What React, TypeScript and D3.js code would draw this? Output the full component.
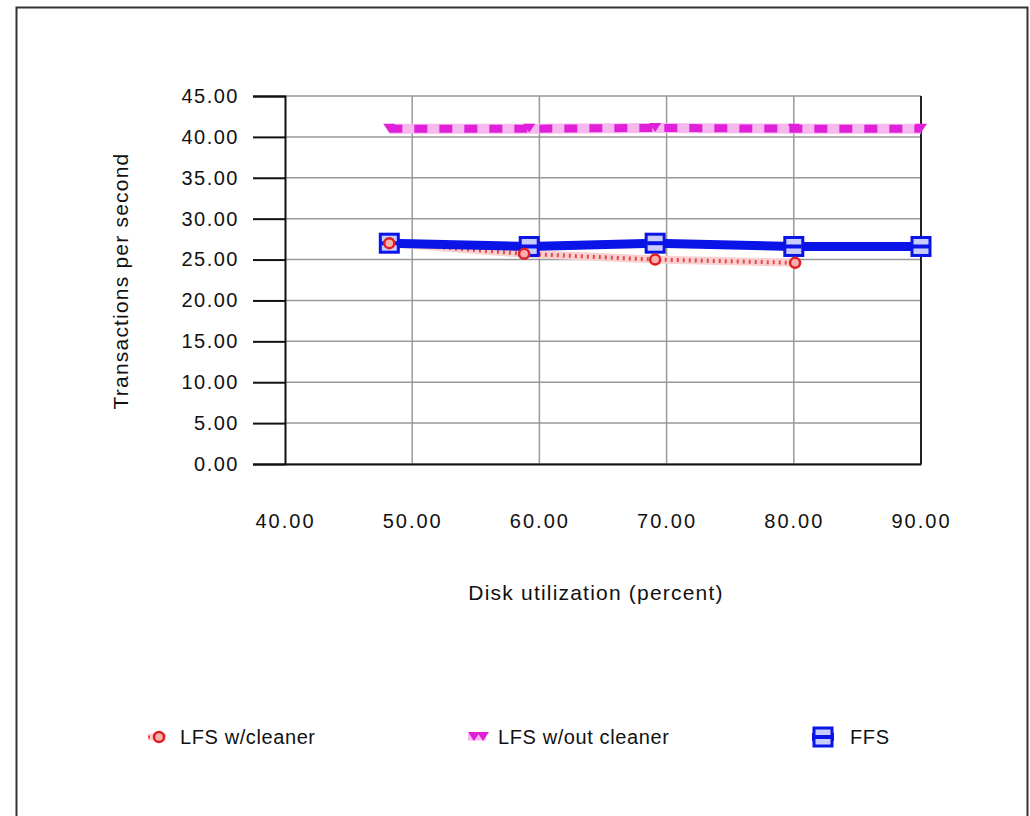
import { useEffect, useRef } from "react";
import * as d3 from "d3";

// Data
const xTicks = [40, 50, 60, 70, 80, 90];
const yTicks = [0, 5, 10, 15, 20, 25, 30, 35, 40, 45];

const lfsCleanerX = [48.2, 58.8, 69.1, 80.1];
const lfsCleanerY = [27.0, 25.7, 25.0, 24.6];

const lfsNoCleanerX = [48.2, 59.2, 69.1, 80.0, 90.0];
const lfsNoCleanerY = [41.0, 41.0, 41.1, 41.0, 41.0];

const ffsX = [48.2, 59.2, 69.1, 80.0, 90.0];
const ffsY = [27.0, 26.6, 27.0, 26.6, 26.6];

const legendLabels = ["LFS w/cleaner", "LFS w/out cleaner", "FFS"];

const W = 1030;
const H = 816;
const FONT = "'Liberation Sans', Arial, sans-serif";

export default function App() {
  const svgRef = useRef<SVGSVGElement | null>(null);

  useEffect(() => {
    if (!svgRef.current) return;
    const svg = d3.select(svgRef.current);
    svg.selectAll("*").remove();

    // outer frame
    svg
      .append("rect")
      .attr("x", 16.5)
      .attr("y", 7.5)
      .attr("width", 1011)
      .attr("height", 830)
      .attr("fill", "white")
      .attr("stroke", "#333")
      .attr("stroke-width", 2);

    const x = d3.scaleLinear().domain([40, 90]).range([285, 921]);
    const y = d3.scaleLinear().domain([0, 45]).range([464, 96]);

    const g = svg.append("g");

    // grid
    g.selectAll(".hgrid")
      .data(yTicks)
      .enter()
      .append("line")
      .attr("x1", x(40))
      .attr("x2", x(90))
      .attr("y1", (d) => y(d))
      .attr("y2", (d) => y(d))
      .attr("stroke", "#999")
      .attr("stroke-width", 1.5);
    g.selectAll(".vgrid")
      .data(xTicks.slice(1, -1))
      .enter()
      .append("line")
      .attr("x1", (d) => x(d))
      .attr("x2", (d) => x(d))
      .attr("y1", y(45))
      .attr("y2", y(0))
      .attr("stroke", "#999")
      .attr("stroke-width", 1.5);

    // right border
    g.append("line")
      .attr("x1", x(90))
      .attr("x2", x(90))
      .attr("y1", y(45))
      .attr("y2", y(0))
      .attr("stroke", "#222")
      .attr("stroke-width", 2);

    // Y axis
    const yAxis = g
      .append("g")
      .attr("transform", `translate(${x(40)},0)`)
      .call(
        d3
          .axisLeft(y)
          .tickValues(yTicks)
          .tickSize(32)
          .tickFormat((d) => d3.format(".2f")(d as number))
      );
    yAxis.select(".domain").attr("stroke", "#111").attr("stroke-width", 2);
    yAxis.selectAll(".tick line").attr("stroke", "#111").attr("stroke-width", 2);
    yAxis
      .selectAll(".tick text")
      .attr("font-family", FONT)
      .attr("font-size", 20)
      .attr("letter-spacing", 1.5)
      .attr("fill", "#111")
      .attr("x", -46);

    // X axis
    const xAxis = g
      .append("g")
      .attr("transform", `translate(0,${y(0)})`)
      .call(
        d3
          .axisBottom(x)
          .tickValues(xTicks)
          .tickSize(0)
          .tickFormat((d) => d3.format(".2f")(d as number))
      );
    xAxis.select(".domain").attr("stroke", "#111").attr("stroke-width", 2);
    xAxis
      .selectAll(".tick text")
      .attr("font-family", FONT)
      .attr("font-size", 20)
      .attr("letter-spacing", 2)
      .attr("fill", "#111")
      .attr("y", 50);

    // axis titles
    svg
      .append("text")
      .attr("transform", "translate(128,281) rotate(-90)")
      .attr("text-anchor", "middle")
      .attr("font-family", FONT)
      .attr("font-size", 21)
      .attr("letter-spacing", 1.2)
      .attr("fill", "#111")
      .text("Transactions per second");
    svg
      .append("text")
      .attr("x", 596)
      .attr("y", 600)
      .attr("text-anchor", "middle")
      .attr("font-family", FONT)
      .attr("font-size", 21)
      .attr("letter-spacing", 1.2)
      .attr("fill", "#111")
      .text("Disk utilization (percent)");

    const line = d3
      .line<[number, number]>()
      .x((d) => x(d[0]))
      .y((d) => y(d[1]));

    const lfsC = lfsCleanerX.map((v, i) => [v, lfsCleanerY[i]] as [number, number]);
    const lfsN = lfsNoCleanerX.map((v, i) => [v, lfsNoCleanerY[i]] as [number, number]);
    const ffs = ffsX.map((v, i) => [v, ffsY[i]] as [number, number]);

    // LFS w/cleaner: pink dotted band
    g.append("path")
      .attr("d", line(lfsC)!)
      .attr("fill", "none")
      .attr("stroke", "#f8d0d0")
      .attr("stroke-width", 8);
    g.append("path")
      .attr("d", line(lfsC)!)
      .attr("fill", "none")
      .attr("stroke", "#e84848")
      .attr("stroke-width", 4)
      .attr("stroke-dasharray", "2 4");

    // LFS w/out cleaner: magenta marker band
    g.append("path")
      .attr("d", line(lfsN)!)
      .attr("fill", "none")
      .attr("stroke", "#f7b8f0")
      .attr("stroke-width", 10);
    g.append("path")
      .attr("d", line(lfsN)!)
      .attr("fill", "none")
      .attr("stroke", "#e020d8")
      .attr("stroke-width", 8)
      .attr("stroke-dasharray", "13 12");

    // FFS: thick blue line
    g.append("path")
      .attr("d", line(ffs)!)
      .attr("fill", "none")
      .attr("stroke", "#0a14e6")
      .attr("stroke-width", 9);

    // markers
    const drawSquare = (sel: d3.Selection<SVGGElement, unknown, null, undefined>, cx: number, cy: number) => {
      sel
        .append("rect")
        .attr("x", cx - 9)
        .attr("y", cy - 9)
        .attr("width", 18)
        .attr("height", 18)
        .attr("fill", "#c8ccff")
        .attr("stroke", "#0a14e6")
        .attr("stroke-width", 3);
      sel
        .append("line")
        .attr("x1", cx - 8)
        .attr("x2", cx + 8)
        .attr("y1", cy)
        .attr("y2", cy)
        .attr("stroke", "#0a14e6")
        .attr("stroke-width", 4);
    };
    const drawCircle = (sel: d3.Selection<SVGGElement, unknown, null, undefined>, cx: number, cy: number) => {
      sel
        .append("circle")
        .attr("cx", cx)
        .attr("cy", cy)
        .attr("r", 5)
        .attr("fill", "#f8b0b0")
        .attr("stroke", "#e02020")
        .attr("stroke-width", 2.5);
    };
    const drawTri = (sel: d3.Selection<SVGGElement, unknown, null, undefined>, cx: number, cy: number) => {
      sel
        .append("path")
        .attr("d", `M${cx - 6},${cy - 5}L${cx + 6},${cy - 5}L${cx},${cy + 4}Z`)
        .attr("fill", "#e020d8");
    };

    const mk = g.append("g");
    ffs.forEach((d) => drawSquare(mk, x(d[0]), y(d[1])));
    lfsC.forEach((d) => drawCircle(mk, x(d[0]), y(d[1])));
    lfsN.forEach((d) => drawTri(mk, x(d[0]), y(d[1])));

    // legend
    const ly = 737;
    const leg = svg.append("g");
    leg.append("line").attr("x1", 148).attr("x2", 166).attr("y1", ly).attr("y2", ly)
      .attr("stroke", "#f8d0d0").attr("stroke-width", 7);
    leg.append("line").attr("x1", 148).attr("x2", 166).attr("y1", ly).attr("y2", ly)
      .attr("stroke", "#e84848").attr("stroke-width", 3).attr("stroke-dasharray", "2 3");
    drawCircle(leg, 159, ly);
    leg.append("line").attr("x1", 468).attr("x2", 486).attr("y1", ly).attr("y2", ly)
      .attr("stroke", "#f7b8f0").attr("stroke-width", 7);
    drawTri(leg, 474, ly);
    drawTri(leg, 483, ly);
    leg.append("line").attr("x1", 812).attr("x2", 834).attr("y1", ly).attr("y2", ly)
      .attr("stroke", "#0a14e6").attr("stroke-width", 8);
    drawSquare(leg, 823, ly);

    const legX = [180, 498, 850];
    legendLabels.forEach((t, i) => {
      leg
        .append("text")
        .attr("x", legX[i])
        .attr("y", ly + 7)
        .attr("font-family", FONT)
        .attr("font-size", 20)
        .attr("letter-spacing", 0.6)
        .attr("fill", "#111")
        .text(t);
    });
  }, []);

  return (
    <svg
      ref={svgRef}
      width={W}
      height={H}
      style={{ position: "absolute", left: 0, top: 0, background: "white" }}
    />
  );
}
